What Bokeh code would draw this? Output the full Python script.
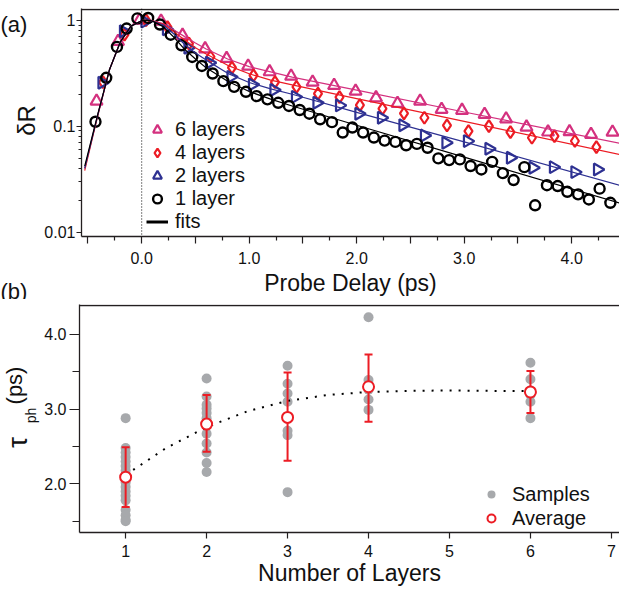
from math import pi
from bokeh.plotting import figure
from bokeh.layouts import column, row
from bokeh.models import (Range1d, FixedTicker, Span, Legend, LegendItem,
                          CustomJSTickFormatter, NumeralTickFormatter)
from bokeh.core.properties import value
from bokeh.embed import file_html
from bokeh.resources import INLINE

FONT = "Liberation Sans"
AXC = "#231f20"
TXT = "#111111"
PINK = "#d4317f"
RED = "#ec1c24"
BLUE = "#2e3192"
GREY = "#a7a9ac"
NAN = float("nan")

# ---------------- panel (a) data ----------------
t_1layer = [-0.43, -0.33, -0.23, -0.14, -0.04, 0.06, 0.17, 0.27, 0.37, 0.47, 0.56, 0.66, 0.76,
            0.86, 0.97, 1.07, 1.17, 1.27, 1.37, 1.47, 1.56, 1.66, 1.77, 1.87, 1.96, 2.06, 2.16,
            2.26, 2.36, 2.46, 2.56, 2.66, 2.76, 2.86, 2.96, 3.06, 3.16, 3.26, 3.36, 3.46, 3.56,
            3.66, 3.77, 3.87, 3.96, 4.06, 4.16, 4.26, 4.36]
dR_1layer = [0.11, 0.286, 0.56, 0.835, 1.04, 1.05, 0.91, 0.73, 0.58, 0.45, 0.37, 0.314, 0.266,
             0.235, 0.211, 0.192, 0.179, 0.166, 0.155, 0.142, 0.131, 0.116, 0.109, 0.087, 0.097,
             0.087, 0.078, 0.073, 0.071, 0.066, 0.068, 0.0625, 0.0496, 0.0478, 0.0485, 0.042,
             0.039, 0.046, 0.036, 0.031, 0.041, 0.0179, 0.0277, 0.0272, 0.024, 0.0227, 0.0203,
             0.0257, 0.0189]

t_2layers = [-0.37, -0.17, 0.03, 0.23, 0.43, 0.63, 0.83, 1.03, 1.23, 1.43, 1.63, 1.84, 2.02,
             2.23, 2.43, 2.63, 2.83, 3.03, 3.23, 3.43, 3.64, 3.83, 4.03, 4.24]
dR_2layers = [0.257, 0.787, 0.97, 0.82, 0.55, 0.396, 0.292, 0.247, 0.219, 0.189, 0.166, 0.157,
              0.131, 0.12, 0.102, 0.0817, 0.0697, 0.0722, 0.0612, 0.0503, 0.0405, 0.041,
              0.0368, 0.039]

t_4layers = [-0.36, -0.16, 0.04, 0.24, 0.44, 0.64, 0.84, 1.04, 1.24, 1.44, 1.64, 1.84, 2.03,
             2.24, 2.44, 2.63, 2.84, 3.04, 3.23, 3.43, 3.63, 3.84, 4.03, 4.23]
dR_4layers = [0.26, 0.73, 1.0, 0.86, 0.60, 0.452, 0.356, 0.301, 0.26, 0.235, 0.203, 0.188,
              0.158, 0.146, 0.132, 0.12, 0.1015, 0.0897, 0.1, 0.0877, 0.0777, 0.0805, 0.0724,
              0.0634]

t_6layers = [-0.42, -0.22, -0.02, 0.18, 0.38, 0.59, 0.79, 0.99, 1.19, 1.39, 1.59, 1.79, 1.99,
             2.18, 2.38, 2.59, 2.79, 2.98, 3.19, 3.39, 3.58, 3.78, 3.98, 4.18, 4.38]
dR_6layers = [0.172, 0.63, 1.0, 0.98, 0.72, 0.537, 0.435, 0.368, 0.326, 0.296, 0.26, 0.242,
              0.214, 0.185, 0.164, 0.172, 0.144, 0.141, 0.129, 0.117, 0.098, 0.088, 0.0885,
              0.0835, 0.0877]

t_fit = [-0.53, -0.45, -0.4, -0.3, -0.2, -0.1, 0.0, 0.05, 0.1, 0.2, 0.3, 0.4, 0.5, 0.6, 0.8,
         1.0, 1.2, 1.4, 2.0, 3.0, 4.45]
fit_1layer = [0.042, 0.088, 0.14, 0.34, 0.62, 0.88, 0.99, 1.0, 0.98, 0.87, 0.69, 0.53, 0.43,
              0.355, 0.265, 0.212, 0.18, 0.155, 0.102, 0.051, 0.0187]
fit_2layers = [0.04, 0.086, 0.138, 0.34, 0.62, 0.88, 0.99, 1.0, 0.98, 0.90, 0.74, 0.59, 0.49,
               0.42, 0.315, 0.258, 0.225, 0.2, 0.135, 0.071, 0.0276]
fit_4layers = [0.038, 0.084, 0.136, 0.34, 0.62, 0.88, 0.99, 1.0, 0.985, 0.92, 0.78, 0.65, 0.55,
               0.48, 0.375, 0.312, 0.272, 0.245, 0.182, 0.111, 0.054]
fit_6layers = [0.04, 0.086, 0.138, 0.34, 0.62, 0.88, 0.99, 1.0, 0.985, 0.93, 0.81, 0.70, 0.61,
               0.535, 0.43, 0.365, 0.325, 0.29, 0.219, 0.136, 0.0687]

# ---------------- panel (b) data ----------------
samples_1 = [2.88, 2.48, 2.42, 2.36, 2.30, 2.24, 2.18, 2.10, 2.02, 1.96, 1.90, 1.84, 1.78,
             1.65, 1.58, 1.52, 1.50]
samples_2 = [3.41, 3.17, 3.06, 3.01, 2.95, 2.88, 2.82, 2.67, 2.54, 2.42, 2.28, 2.16]
samples_3 = [3.58, 3.34, 3.21, 3.10, 2.71, 2.65, 1.89]
samples_4 = [4.23, 3.39, 3.26, 3.13, 2.99]
samples_6 = [3.62, 3.40, 3.25, 3.19, 3.10, 2.88]

avg_layers = [1, 2, 3, 4, 6]
avg_tau = [2.09, 2.80, 2.89, 3.30, 3.23]
avg_upper = [2.49, 3.19, 3.49, 3.73, 3.51]
avg_lower = [1.69, 2.43, 2.31, 2.83, 2.95]

trend_layers = [1.0, 1.5, 2.0, 2.5, 3.0, 3.5, 4.0, 4.5, 5.0, 5.5, 6.1]
trend_tau = [2.12, 2.48, 2.76, 2.97, 3.11, 3.19, 3.23, 3.245, 3.25, 3.245, 3.24]

STRIP_W = 41
W = 578
HA = 299
HB = 289
SHIFT = 7          # the page is shown about 7px higher than it is laid out
TOP_A = 8
TOP_B = 8 + HA

YA = (0.00908, 1.29)
YB = (1.35, 4.40)


def style_axis(ax, major_out, minor_out):
    ax.axis_line_color = AXC
    ax.axis_line_width = 1.3
    ax.major_tick_line_color = AXC
    ax.minor_tick_line_color = AXC
    ax.major_tick_line_width = 1.2
    ax.minor_tick_line_width = 1.2
    ax.major_tick_in = 0
    ax.minor_tick_in = 0
    ax.major_tick_out = major_out
    ax.minor_tick_out = minor_out
    ax.major_label_text_font = FONT
    ax.major_label_text_font_size = "16px"
    ax.major_label_text_color = TXT
    ax.axis_label_text_font = FONT
    ax.axis_label_text_font_style = "normal"
    ax.axis_label_text_color = TXT


def make_strip(height):
    s = figure(width=STRIP_W, height=height, x_range=Range1d(0, STRIP_W),
               y_range=Range1d(0, height), output_backend="svg", toolbar_location=None,
               title=None, min_border=0, x_axis_location=None, y_axis_location=None)
    s.outline_line_color = None
    s.grid.visible = False
    s.frame_align = False
    return s


def strip_text(s, top, height, px, py, text, size, angle=0.0, centered=False):
    s.text(x=[px - 8], y=[top + height - (py + SHIFT)], text=[text], angle=angle,
           text_font=value(FONT), text_font_size=value(size),
           text_align="center" if centered else "left",
           text_baseline="middle" if centered else "alphabetic", text_color=TXT)


# ---------------- left strips with panel letters and y titles ----------------
stripA = make_strip(HA)
stripB = make_strip(HB)
strip_text(stripA, TOP_A, HA, 8, 25, "(a)", "22px")
strip_text(stripA, TOP_A, HA, 8, 292, "(b)", "22px")
strip_text(stripA, TOP_A, HA, 34, 121, "δR", "24px", pi / 2, True)
strip_text(stripB, TOP_B, HB, 25, 443, "τ", "28px", pi / 2, True)
strip_text(stripB, TOP_B, HB, 38, 416, "ph", "14px", pi / 2, True)
strip_text(stripB, TOP_B, HB, 22, 386, "(ps)", "22px", pi / 2, True)

# ---------------- figure (a) ----------------
pA = figure(width=W, height=HA, x_range=Range1d(-0.56, 4.445), y_range=Range1d(*YA),
            y_axis_type="log", output_backend="svg", toolbar_location=None, title=None,
            min_border_left=38, min_border_right=0, min_border_top=1 + SHIFT,
            min_border_bottom=63)
pA.frame_align = False
pA.outline_line_color = None
pA.grid.visible = False
xa = pA.below[0]
ya = pA.left[0]

style_axis(xa, 7, 4)
xa.ticker = FixedTicker(ticks=[-0.5, 0, 0.5, 1, 1.5, 2, 2.5, 3, 3.5, 4],
                        minor_ticks=[-0.25, 0.25, 0.75, 1.25, 1.75, 2.25, 2.75, 3.25, 3.75, 4.25])
xa.formatter = CustomJSTickFormatter(
    code="return Math.abs(tick - Math.round(tick)) < 1e-6 ? tick.toFixed(1) : '';")
xa.major_label_standoff = 8
xa.axis_label = "Probe Delay (ps)"
xa.axis_label_text_font_size = "23px"
xa.axis_label_standoff = 3

style_axis(ya, 5, 3)
ya.ticker = FixedTicker(ticks=[0.01, 0.1, 1],
                        minor_ticks=[0.02, 0.03, 0.04, 0.05, 0.06, 0.07, 0.08, 0.09,
                                     0.2, 0.3, 0.4, 0.5, 0.6, 0.7, 0.8, 0.9])
ya.formatter = CustomJSTickFormatter(
    code="if (tick > 0.5) return '1'; if (tick > 0.05) return '0.1'; return '0.01';")
ya.major_label_standoff = 1

# top frame line, one pixel inside the frame (1 decade ~ 106 px)
pA.add_layout(Span(location=YA[1] / 10 ** (1 / 106), dimension="width", line_color=AXC,
                   line_width=1.6))
pA.add_layout(Span(location=0, dimension="height", line_color="black", line_dash="1 2",
                   line_width=1))

r6 = pA.scatter(t_6layers, dR_6layers, marker="triangle", size=12, fill_color=None,
                line_color=PINK, line_width=2.2)
r4 = pA.scatter(t_4layers, dR_4layers, marker="diamond", size=12, fill_color=None,
                line_color=RED, line_width=2.2)
r2 = pA.scatter(t_2layers, dR_2layers, marker="triangle", angle=-pi / 2, size=12,
                fill_color=None, line_color=BLUE, line_width=2.2)
r1 = pA.scatter(t_1layer, dR_1layer, marker="circle", size=10, fill_color=None,
                line_color="black", line_width=2.4)

pA.line(t_fit, fit_6layers, line_color=PINK, line_width=1.2)
pA.line(t_fit, fit_4layers, line_color=RED, line_width=1.2)
pA.line(t_fit, fit_2layers, line_color=BLUE, line_width=1.2)
pA.line(t_fit, fit_1layer, line_color="black", line_width=1.2)
r_fits = pA.line([NAN, NAN], [NAN, NAN], line_color="black", line_width=3)

legA = Legend(items=[LegendItem(label="6 layers", renderers=[r6]),
                     LegendItem(label="4 layers", renderers=[r4]),
                     LegendItem(label="2 layers", renderers=[r2]),
                     LegendItem(label="1 layer", renderers=[r1]),
                     LegendItem(label="fits", renderers=[r_fits])],
              location=(65, 3), border_line_color=None, background_fill_alpha=0,
              padding=0, margin=0, spacing=0, glyph_width=22, glyph_height=23,
              label_height=23, label_standoff=7, label_text_font=FONT,
              label_text_font_size="20px", label_text_color=TXT)
pA.add_layout(legA)

# ---------------- figure (b) ----------------
pB = figure(width=W, height=HB, x_range=Range1d(0.43, 7.1), y_range=Range1d(*YB),
            output_backend="svg", toolbar_location=None, title=None,
            min_border_left=38, min_border_right=0, min_border_top=5, min_border_bottom=49)
pB.frame_align = False
pB.outline_line_color = None
pB.grid.visible = False
xb = pB.below[0]
yb = pB.left[0]

style_axis(xb, 6, 0)
xb.ticker = FixedTicker(ticks=[1, 2, 3, 4, 5, 6, 7])
xb.major_label_standoff = 6
xb.axis_label = "Number of Layers"
xb.axis_label_text_font_size = "23px"
xb.axis_label_standoff = 0

style_axis(yb, 10, 7)
yb.ticker = FixedTicker(ticks=[2, 3, 4], minor_ticks=[1.5, 2.5, 3.5])
yb.formatter = NumeralTickFormatter(format="0.0")
yb.major_label_standoff = 3

# top frame line, one pixel inside the frame (1 unit ~ 77 px)
pB.add_layout(Span(location=YB[1] - 1 / 77, dimension="width", line_color=AXC,
                   line_width=1.6))

samples = [(1, samples_1), (2, samples_2), (3, samples_3), (4, samples_4), (6, samples_6)]
sx, sy = [], []
for n, vals in samples:
    sx += [n] * len(vals)
    sy += vals
rs = pB.scatter(sx, sy, marker="circle", size=10, fill_color=GREY, line_color=None)
pB.line(trend_layers, trend_tau, line_color="black", line_width=2, line_dash="2 7")
pB.segment(avg_layers, avg_lower, avg_layers, avg_upper, line_color=RED, line_width=2)
pB.scatter(avg_layers, avg_upper, marker="dash", size=8, line_color=RED, line_width=2)
pB.scatter(avg_layers, avg_lower, marker="dash", size=8, line_color=RED, line_width=2)
ra = pB.scatter(avg_layers, avg_tau, marker="circle", size=11, fill_color="white",
                line_color=RED, line_width=2)

legB = Legend(items=[LegendItem(label="Samples", renderers=[rs]),
                     LegendItem(label="Average", renderers=[ra])],
              location=(402, 2), border_line_color=None, background_fill_alpha=0,
              padding=0, margin=0, spacing=0, glyph_width=20, glyph_height=24,
              label_height=24, label_standoff=11, label_text_font=FONT,
              label_text_font_size="20px", label_text_color=TXT)
pB.add_layout(legB)

layout = column(row(stripA, pA, spacing=0), row(stripB, pB, spacing=0), spacing=0)
open("out.html", "w").write(file_html(layout, INLINE))
